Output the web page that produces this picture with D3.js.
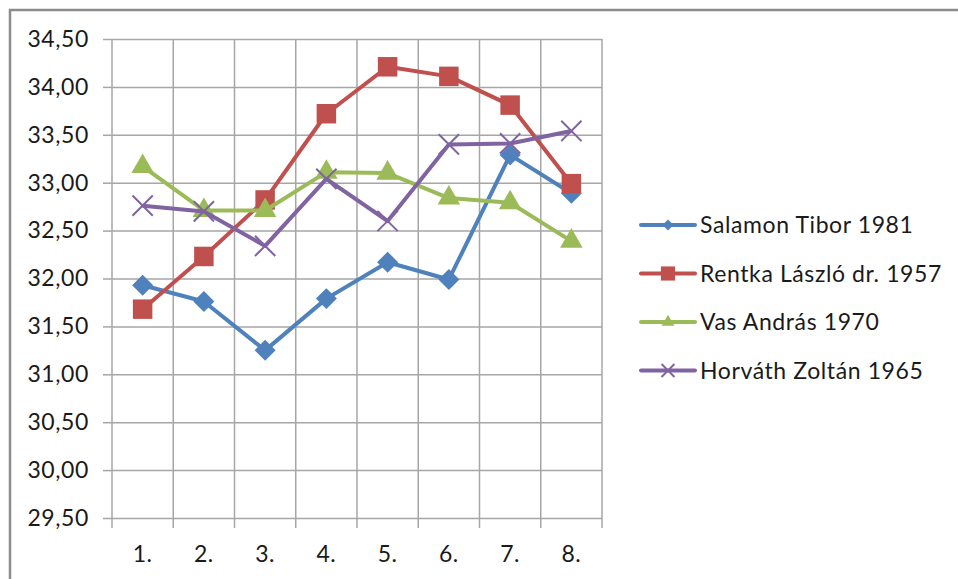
<!DOCTYPE html>
<html>
  <head>
    <meta charset="utf-8">
    <title>Line chart</title>
    <style>
      body { margin: 0; background: #fff; }
      text { font-family: Lato, "Open Sans", sans-serif; fill: #1a1a1a; letter-spacing: 0.6px; }
      .grid line { stroke: #a6a6a6; stroke-width: 1.5; }
      .grid path { display: none; }
    </style>
  </head>
  <body>
    <div id="chart"></div>
    <script src="https://cdn.jsdelivr.net/npm/d3@7"></script>
    <script>
      var categories = ['1.', '2.', '3.', '4.', '5.', '6.', '7.', '8.'];
      var yTicks = [29.5, 30, 30.5, 31, 31.5, 32, 32.5, 33, 33.5, 34, 34.5];
      var seriesNames = ['Salamon Tibor 1981', 'Rentka László dr. 1957', 'Vas András 1970', 'Horváth Zoltán 1965'];
      var salamon = [31.93, 31.76, 31.25, 31.79, 32.17, 31.99, 33.29, 32.89];
      var rentka = [31.68, 32.23, 32.82, 33.72, 34.21, 34.11, 33.81, 32.99];
      var vas = [33.17, 32.71, 32.71, 33.11, 33.10, 32.84, 32.79, 32.39];
      var horvath = [32.76, 32.70, 32.34, 33.04, 32.60, 33.40, 33.41, 33.54];

      var width = 958, height = 579;
      var colors = ['#4f81bd', '#c0504d', '#9bbb59', '#8064a2'];
      var series = [salamon, rentka, vas, horvath].map(function(v, i) {
        return { name: seriesNames[i], values: v, color: colors[i], idx: i };
      });

      var svg = d3.select('#chart').append('svg')
        .attr('width', width).attr('height', height);

      // outer chart frame (right and bottom run off the picture)
      svg.append('path')
        .attr('d', 'M10,' + height + 'V10H' + width)
        .attr('fill', 'none').attr('stroke', '#8c8c8c').attr('stroke-width', 2.5);

      var x = d3.scaleBand().domain(categories).range([112, 602]).padding(0);
      var y = d3.scaleLinear().domain([29.5, 34.5]).range([518, 39]);

      // horizontal grid + y labels
      svg.append('g').attr('class', 'grid')
        .attr('transform', 'translate(112,0)')
        .call(d3.axisLeft(y).tickValues(yTicks).tickSize(-490).tickSizeOuter(0).tickFormat(function() { return ''; }));
      svg.append('g').attr('class', 'grid')
        .attr('transform', 'translate(112,0)')
        .call(d3.axisLeft(y).tickValues(yTicks).tickSize(9).tickPadding(14)
          .tickFormat(function(d) { return d3.format('.2f')(d).replace('.', ','); }))
        .selectAll('text').style('font-size', '23px').attr('fill', '#1a1a1a');

      // vertical grid on category boundaries
      var bounds = categories.map(function(c) { return x(c); }).concat([x.range()[1]]);
      svg.append('g').selectAll('line').data(bounds).join('line')
        .attr('x1', function(d) { return d; }).attr('x2', function(d) { return d; })
        .attr('y1', 39).attr('y2', 528)
        .attr('stroke', '#a6a6a6').attr('stroke-width', 1.5);

      // x labels
      svg.append('g').selectAll('text').data(categories).join('text')
        .attr('x', function(d) { return x(d) + x.bandwidth() / 2; })
        .attr('y', 562)
        .attr('text-anchor', 'middle')
        .style('font-size', '23px')
        .text(function(d) { return d; });

      var symbols = [
        d3.symbol().type(d3.symbolSquare).size(220),
        d3.symbol().type(d3.symbolSquare).size(380),
        d3.symbol().type(d3.symbolTriangle).size(220),
        d3.symbol().type(d3.symbolTimes).size(270)
      ];
      var legendSymbols = [
        d3.symbol().type(d3.symbolSquare).size(60),
        d3.symbol().type(d3.symbolSquare).size(200),
        d3.symbol().type(d3.symbolTriangle).size(70),
        d3.symbol().type(d3.symbolTimes).size(110)
      ];

      function drawMarker(sel, s, syms) {
        sel.attr('d', syms[s.idx])
          .attr('fill', s.idx === 3 ? 'none' : s.color)
          .attr('stroke', s.idx === 3 ? s.color : 'none')
          .attr('stroke-width', 2);
      }

      var line = d3.line()
        .x(function(d, i) { return x(categories[i]) + x.bandwidth() / 2; })
        .y(function(d) { return y(d); });

      series.forEach(function(s) {
        var g = svg.append('g');
        g.append('path')
          .attr('d', line(s.values))
          .attr('fill', 'none')
          .attr('stroke', s.color)
          .attr('stroke-width', 4)
          .attr('stroke-linejoin', 'round');
        g.selectAll('path.m').data(s.values).join('path')
          .attr('class', 'm')
          .attr('transform', function(d, i) {
            var t = 'translate(' + (x(categories[i]) + x.bandwidth() / 2) + ',' + y(d) + ')';
            return s.idx === 0 ? t + ' rotate(45)' : t;
          })
          .call(drawMarker, s, symbols);
      });

      // legend
      var legend = svg.append('g').selectAll('g').data(series).join('g')
        .attr('transform', function(d, i) { return 'translate(641,' + (225 + i * 48.5) + ')'; });
      legend.append('line')
        .attr('x1', 0).attr('x2', 54)
        .attr('stroke', function(d) { return d.color; })
        .attr('stroke-width', 4).attr('stroke-linecap', 'round');
      legend.append('path')
        .attr('transform', function(d) { return 'translate(27,0)' + (d.idx === 0 ? ' rotate(45)' : ''); })
        .each(function(d) { d3.select(this).call(drawMarker, d, legendSymbols); });
      legend.append('text')
        .attr('x', 59).attr('dy', '0.35em')
        .style('font-size', '23px')
        .text(function(d) { return d.name; });
    </script>
  </body>
</html>
